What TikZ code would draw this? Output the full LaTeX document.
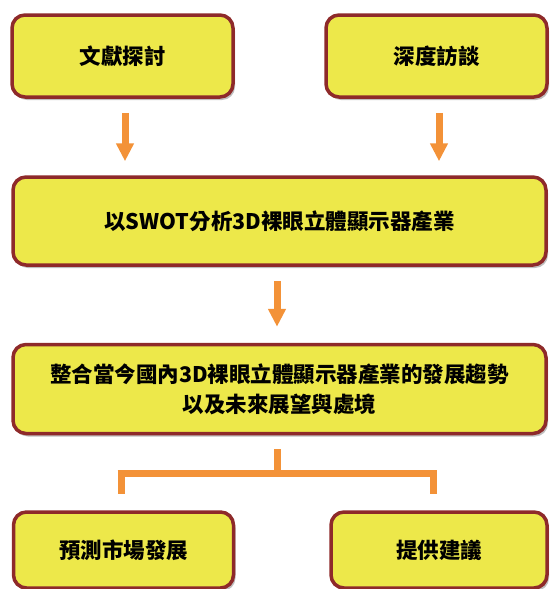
\documentclass[tikz,border=0pt]{standalone}
\usepackage{fontspec}
\newfontfamily\cjk{Noto Sans CJK TC}
\usetikzlibrary{arrows.meta,shadows}
\definecolor{boxfill}{HTML}{EDE84A}
\definecolor{boxline}{HTML}{8E2A2A}
\definecolor{arrowc}{HTML}{F39238}
\tikzset{
  boxnode/.style={draw=boxline, line width=3.5pt, fill=boxfill, rounded corners=13pt,
    inner sep=0pt, align=center, font=\cjk\bfseries\fontsize{21.5}{30}\selectfont,
    drop shadow={shadow xshift=2pt, shadow yshift=-3pt, opacity=0.25, fill=black}},
  flowarrow/.style={draw=arrowc, line width=7pt, -{Triangle[width=17pt,length=18pt]}},
  bracketline/.style={draw=arrowc, line width=7pt}
}
\begin{document}
\begin{tikzpicture}[x=1pt,y=1pt]
\useasboundingbox (0,0) rectangle (549,-589);
\node[boxnode, minimum width=221pt, minimum height=82pt] (b1) at (122.5,-56) {文獻探討};
\node[boxnode, minimum width=221pt, minimum height=82pt] (b2) at (436.5,-56) {深度訪談};
\node[boxnode, minimum width=533pt, minimum height=88pt] (b3) at (279.5,-221) {以SWOT分析3D裸眼立體顯示器產業};
\node[boxnode, minimum width=533pt, minimum height=89pt] (b4) at (279.5,-389) {整合當今國內3D裸眼立體顯示器產業的發展趨勢\\以及未來展望與處境};
\node[boxnode, minimum width=220pt, minimum height=76pt] (b5) at (123.5,-550) {預測市場發展};
\node[boxnode, minimum width=216pt, minimum height=76pt] (b6) at (439,-550) {提供建議};
\draw[flowarrow, shorten <=14pt, shorten >=14pt] ([xshift=2.5pt]b1.south) -- ([xshift=2.5pt]b1.south |- b3.north);
\draw[flowarrow, shorten <=14pt, shorten >=14pt] ([xshift=2.5pt]b2.south) -- ([xshift=2.5pt]b2.south |- b3.north);
\draw[flowarrow, shorten <=14pt, shorten >=16pt] ([xshift=-2.5pt]b3.south) -- ([xshift=-2.5pt]b3.south |- b4.north);
\coordinate (j) at (277,-473);
\coordinate (jl) at (121,-473);
\coordinate (jr) at (433,-473);
\draw[bracketline, shorten <=14pt] (b4.south -| j) -- (j);
\draw[bracketline, line cap=butt] ([xshift=-3.5pt]jl) -- ([xshift=3.5pt]jr);
\draw[bracketline, shorten >=16pt] (jl) -- (jl |- b5.north);
\draw[bracketline, shorten >=16pt] (jr) -- (jr |- b6.north);
\end{tikzpicture}
\end{document}
